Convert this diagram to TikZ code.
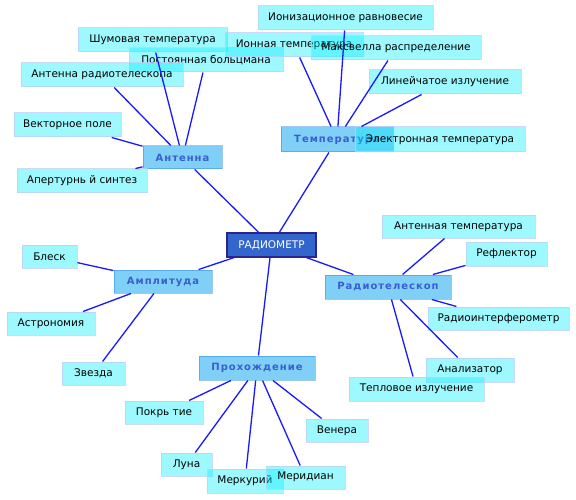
\documentclass[tikz,border=0pt]{standalone}
\usepackage{fontspec}
\setmainfont{DejaVu Sans}
\newfontfamily\catfont[LetterSpace=10]{DejaVu Sans Bold}
\definecolor{leaffill}{RGB}{0,238,255}
\definecolor{leafdraw}{RGB}{190,210,248}
\definecolor{catfill}{RGB}{0,160,240}
\definecolor{catdraw}{RGB}{40,130,225}
\definecolor{cattext}{RGB}{58,94,206}
\definecolor{cenfill}{RGB}{51,102,204}
\definecolor{cendraw}{RGB}{44,36,140}
\definecolor{edgecol}{RGB}{25,25,255}
\begin{document}
\begin{tikzpicture}[x=1pt,y=-1pt,
  leaf/.style={rectangle, fill=leaffill, fill opacity=0.38, text opacity=1, draw=leafdraw, draw opacity=0.8, line width=1pt, inner sep=0pt, font=\fontsize{10.5}{12}\selectfont, text=black},
  cat/.style={rectangle, fill=catfill, fill opacity=0.5, text opacity=1, draw=catdraw, draw opacity=0.45, line width=1pt, inner sep=0pt, font=\catfont\fontsize{10}{12}\selectfont, text=cattext},
  cen/.style={rectangle, fill=cenfill, draw=cendraw, line width=1.2pt, inner sep=0pt, font=\fontsize{10.5}{12}\selectfont, text=white},
  link/.style={draw=edgecol, line width=1.3pt}]
\useasboundingbox (0,0) rectangle (576,500);
% center
\node[cen, minimum width=89pt, minimum height=24pt] (ra) at (271.5,245) {РАДИОМЕТР};
% categories
\node[cat, minimum width=79pt, minimum height=23pt] (ant) at (182.5,157.5) {Антенна};
\node[cat, minimum width=112pt, minimum height=25pt] (temp) at (337,139.5) {Температура};
\node[cat, minimum width=98pt, minimum height=23pt] (amp) at (163,281.5) {Амплитуда};
\node[cat, minimum width=116pt, minimum height=24pt] (prox) at (257,368) {Прохождение};
\node[cat, minimum width=126pt, minimum height=24pt] (rtel) at (388,287) {Радиотелескоп};
% leaves: antenna
\node[leaf, minimum width=149pt, minimum height=24pt] (shum) at (152.5,40) {Шумовая температура};
\node[leaf, minimum width=154pt, minimum height=24pt] (post) at (206,60) {Постоянная больцмана};
\node[leaf, minimum width=162pt, minimum height=24pt] (antr) at (102,75) {Антенна радиотелескопа};
\node[leaf, minimum width=107pt, minimum height=24pt] (vect) at (67.5,125) {Векторное поле};
\node[leaf, minimum width=130pt, minimum height=24pt] (aper) at (82,181) {Апертурнь й синтез};
% leaves: temperature
\node[leaf, minimum width=138pt, minimum height=24pt] (ion) at (294,45) {Ионная температура};
\node[leaf, minimum width=175pt, minimum height=24pt] (ioniz) at (345.5,18) {Ионизационное равновесие};
\node[leaf, minimum width=170pt, minimum height=24pt] (maxw) at (396,48) {Максвелла распределение};
\node[leaf, minimum width=152pt, minimum height=24pt] (lin) at (445,82) {Линейчатое излучение};
\node[leaf, minimum width=170pt, minimum height=25pt] (elec) at (440,139.5) {Электронная температура};
% leaves: amplitude
\node[leaf, minimum width=55pt, minimum height=23pt] (blesk) at (49.5,256.5) {Блеск};
\node[leaf, minimum width=88pt, minimum height=23pt] (astr) at (51,323.5) {Астрономия};
\node[leaf, minimum width=63pt, minimum height=23pt] (zvez) at (93.5,373.5) {Звезда};
% leaves: passage
\node[leaf, minimum width=78pt, minimum height=23pt] (pokr) at (164,412.5) {Покрь тие};
\node[leaf, minimum width=51pt, minimum height=23pt] (luna) at (186.5,464.5) {Луна};
\node[leaf, minimum width=76pt, minimum height=24pt] (merk) at (245,481) {Меркурий};
\node[leaf, minimum width=79pt, minimum height=23pt] (merid) at (305.5,477.5) {\raisebox{3pt}{Меридиан}};
\node[leaf, minimum width=62pt, minimum height=23pt] (vener) at (337,430.5) {Венера};
% leaves: radiotelescope
\node[leaf, minimum width=153pt, minimum height=23pt] (anttemp) at (458.5,226.5) {Антенная температура};
\node[leaf, minimum width=81pt, minimum height=24pt] (refl) at (506.5,254) {Рефлектор};
\node[leaf, minimum width=141pt, minimum height=23pt] (rinterf) at (498.5,318.5) {Радиоинтерферометр};
\node[leaf, minimum width=88pt, minimum height=24pt] (anal) at (470,370) {Анализатор};
\node[leaf, minimum width=135pt, minimum height=24pt] (tepl) at (416.5,389) {Тепловое излучение};
% edges
\foreach \a/\b in {ra/ant, ra/temp, ra/amp, ra/prox, ra/rtel,
  ant/shum, ant/post, ant/antr, ant/vect, ant/aper,
  temp/ion, temp/ioniz, temp/maxw, temp/lin,
  amp/blesk, amp/astr, amp/zvez,
  prox/pokr, prox/luna, prox/merk, prox/merid, prox/vener,
  rtel/anttemp, rtel/refl, rtel/rinterf, rtel/anal, rtel/tepl}
  \draw[link] (\a) -- (\b);
\end{tikzpicture}
\end{document}
